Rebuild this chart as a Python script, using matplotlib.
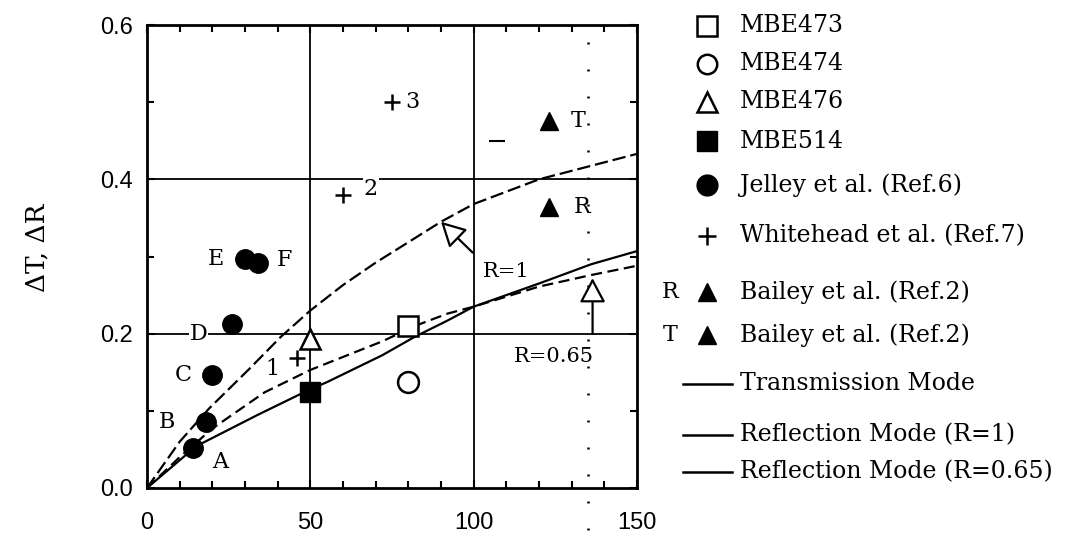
import matplotlib
matplotlib.use("Agg")
import matplotlib.pyplot as plt

# --- points ---
mbe473_x = [80]
mbe473_y = [0.21]
mbe474_x = [80]
mbe474_y = [0.137]
mbe476_x = [50]
mbe476_y = [0.193]
mbe514_x = [50]
mbe514_y = [0.125]

jelley_x = [14, 18, 20, 26, 30, 34]
jelley_y = [0.052, 0.086, 0.147, 0.212, 0.297, 0.292]
jelley_labels = ["A", "B", "C", "D", "E", "F"]

whitehead_x = [46, 60, 75]
whitehead_y = [0.168, 0.38, 0.5]
whitehead_labels = ["1", "2", "3"]

bailey_r_x = [123]
bailey_r_y = [0.364]
bailey_t_x = [123]
bailey_t_y = [0.476]

stray_x = [107]
stray_y = [0.45]

# --- model curves ---
trans_x = [0, 15, 34, 50, 55, 72, 82, 92, 100, 120, 136, 150]
trans_y = [0, 0.054, 0.095, 0.128, 0.137, 0.172, 0.196, 0.217, 0.235, 0.265, 0.29, 0.307]

refl1_x = [0, 10, 19, 31, 41, 50, 60, 70, 90, 100, 120, 150]
refl1_y = [0, 0.06, 0.103, 0.153, 0.196, 0.23, 0.263, 0.292, 0.345, 0.368, 0.40, 0.433]

refl65_x = [0, 10, 20, 36, 50, 72, 82, 92, 100, 120, 136, 150]
refl65_y = [0, 0.04, 0.077, 0.124, 0.153, 0.19, 0.21, 0.226, 0.235, 0.261, 0.276, 0.288]

legend_labels = ["MBE473", "MBE474", "MBE476", "MBE514", "Jelley et al. (Ref.6)",
                 "Whitehead et al. (Ref.7)", "Bailey et al. (Ref.2)", "Bailey et al. (Ref.2)",
                 "Transmission Mode", "Reflection Mode (R=1)", "Reflection Mode (R=0.65)"]

serif = "DejaVu Serif"
sans = "Liberation Sans"

W, H = 1069, 540
fig = plt.figure(figsize=(W / 100, H / 100), dpi=100)
ax = fig.add_axes([147 / W, 1 - 488 / H, (637 - 147) / W, (488 - 25) / H])

ax.set_xlim(0, 150)
ax.set_ylim(0, 0.6)

# grid: solid lines at the majors, dotted line at 135
for gx in [50, 100]:
    ax.axvline(gx, color="black", lw=1.3, zorder=1)
for gy in [0.2, 0.4]:
    ax.axhline(gy, color="black", lw=1.3, zorder=1)
ax.axvline(135, ymin=-0.09, ymax=1, color="black", lw=1.8, ls=(0, (0.8, 10)),
           clip_on=False, zorder=1)

# curves
ax.plot(trans_x, trans_y, color="black", lw=1.6, zorder=2)
ax.plot(refl1_x, refl1_y, color="black", lw=1.6, dashes=(6, 2.2), zorder=2)
ax.plot(refl65_x, refl65_y, color="black", lw=1.6, dashes=(5, 2.5), zorder=2)

# markers
ax.plot(mbe473_x, mbe473_y, "s", ms=14, mfc="white", mec="black", mew=1.8, zorder=4)
ax.plot(mbe474_x, mbe474_y, "o", ms=15, mfc="white", mec="black", mew=1.8, zorder=4)
ax.plot(mbe476_x, mbe476_y, "^", ms=15, mfc="white", mec="black", mew=1.8, zorder=4)
ax.plot(mbe514_x, mbe514_y, "s", ms=14, color="black", zorder=4)
ax.plot(jelley_x, jelley_y, "o", ms=14, color="black", zorder=4)
ax.plot(whitehead_x, whitehead_y, "+", ms=11, mew=1.8, color="black", zorder=4)
ax.plot(bailey_r_x, bailey_r_y, "^", ms=13, color="black", zorder=4)
ax.plot(bailey_t_x, bailey_t_y, "^", ms=13, color="black", zorder=4)
ax.plot(stray_x, stray_y, "_", ms=12, mew=1.5, color="black", zorder=4)

# point labels
jelley_off = [(20, -10), (-28, 0), (-21, 0), (-24, -7), (-21, 0), (19, 2)]
for x, y, t, off in zip(jelley_x, jelley_y, jelley_labels, jelley_off):
    ax.annotate(t, (x, y), xytext=off, textcoords="offset points", ha="center", va="center",
                fontsize=16, family=serif, zorder=5,
                bbox=dict(fc="white", ec="none", pad=0.5) if t == "D" else None)
white_off = [(-18, -8), (20, 4), (15, 0)]
for x, y, t, off in zip(whitehead_x, whitehead_y, whitehead_labels, white_off):
    ax.annotate(t, (x, y), xytext=off, textcoords="offset points", ha="center", va="center",
                fontsize=16, family=serif, zorder=5,
                bbox=dict(fc="white", ec="none", pad=0.5) if t == "2" else None)
ax.annotate("T", (bailey_t_x[0], bailey_t_y[0]), xytext=(21, 0), textcoords="offset points",
            ha="center", va="center", fontsize=16, family=serif)
ax.annotate("R", (bailey_r_x[0], bailey_r_y[0]), xytext=(24, 0), textcoords="offset points",
            ha="center", va="center", fontsize=16, family=serif)

# arrows with open heads
arrow = dict(arrowstyle="-|>,head_length=1.5,head_width=0.8", fc="white", ec="black",
             lw=1.6, shrinkA=0, shrinkB=0)
ax.annotate("", xy=(90, 0.345), xytext=(99.7, 0.305), arrowprops=arrow, zorder=5)
ax.text(110, 0.28, "R=1", ha="center", va="center", fontsize=15, family=serif)
ax.annotate("", xy=(136.4, 0.272), xytext=(136.4, 0.2), arrowprops=arrow, zorder=5)
ax.text(124.5, 0.17, "R=0.65", ha="center", va="center", fontsize=15, family=serif)

# ticks
ax.set_xticks([0, 50, 100, 150])
ax.set_xticks(range(0, 151, 10), minor=True)
ax.set_yticks([0.0, 0.2, 0.4, 0.6])
ax.set_yticks([0.1, 0.3, 0.5], minor=True)
ax.set_yticklabels(["0.0", "0.2", "0.4", "0.6"])
ax.tick_params(which="both", direction="in", top=True, right=True, width=1.5, color="black")
ax.tick_params(which="major", length=6)
ax.tick_params(which="minor", length=5)
ax.tick_params(axis="x", pad=17, labelsize=17)
ax.tick_params(axis="y", pad=10, labelsize=17)
for lab in ax.get_xticklabels() + ax.get_yticklabels():
    lab.set_family(sans)
for s in ax.spines.values():
    s.set_linewidth(2)

fig.text(37 / W, 1 - 248 / H, "ΔT, ΔR", rotation=90, ha="center", va="center",
         fontsize=19, family=serif)

# legend drawn by hand on an overlay in pixel units
lax = fig.add_axes([0, 0, 1, 1])
lax.set_xlim(0, W)
lax.set_ylim(H, 0)
lax.axis("off")
rows = [26, 64, 102, 141, 185, 236, 292, 335, 384, 435, 472]
mx, tx = 707, 740
lax.plot(mx, rows[0], "s", ms=14, mfc="white", mec="black", mew=1.8)
lax.plot(mx, rows[1], "o", ms=14, mfc="white", mec="black", mew=1.8)
lax.plot(mx, rows[2], "^", ms=14, mfc="white", mec="black", mew=1.8)
lax.plot(mx, rows[3], "s", ms=14, color="black")
lax.plot(mx, rows[4], "o", ms=15, color="black")
lax.plot(mx, rows[5], "+", ms=13, mew=1.8, color="black")
lax.plot(mx, rows[6], "^", ms=13, color="black")
lax.plot(mx, rows[7], "^", ms=13, color="black")
lax.text(670, rows[6], "R", ha="center", va="center", fontsize=16, family=serif)
lax.text(670, rows[7], "T", ha="center", va="center", fontsize=16, family=serif)
for r in rows[8:]:
    lax.plot([683, 732], [r, r], color="black", lw=1.8)
for r, t in zip(rows, legend_labels):
    lax.text(tx, r, t, ha="left", va="center", fontsize=17, family=serif)

fig.savefig("out.png", dpi=100, facecolor="white")
